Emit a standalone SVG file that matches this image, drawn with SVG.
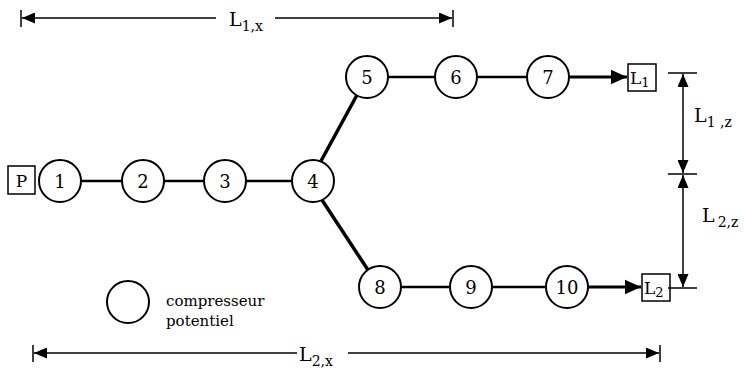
<svg xmlns="http://www.w3.org/2000/svg" width="745" height="373" viewBox="0 0 745 373">
<style>
.n circle{fill:#fff;stroke:#000;stroke-width:2}
.n text,.t{font-family:"DejaVu Serif","Liberation Serif",serif;font-size:18px;fill:#000}
.n text{text-anchor:middle}
.lg{font-family:"DejaVu Serif","Liberation Serif",serif;font-size:15px;fill:#000}
.bx{font-family:"DejaVu Serif","Liberation Serif",serif;font-size:17px;fill:#000}
.b{fill:#fff;stroke:#000;stroke-width:1.5}
.c line{stroke:#000;stroke-width:2.5}
.d line{stroke:#000;stroke-width:1.5}
.lbl{font-family:"DejaVu Serif","Liberation Serif",serif;font-size:19px;fill:#000}
.sub{font-size:14px}
</style>
<defs>
<marker id="ah" viewBox="0 0 10 10" refX="10" refY="5" markerWidth="13" markerHeight="11" markerUnits="userSpaceOnUse" orient="auto-start-reverse" preserveAspectRatio="none"><path d="M0,0L10,5L0,10z" fill="#000"/></marker>
<marker id="ahb" viewBox="0 0 10 10" refX="10" refY="5" markerWidth="16" markerHeight="16" markerUnits="userSpaceOnUse" orient="auto"><path d="M0,0.5L10,5L0,9.5z" fill="#000"/></marker>
</defs>
<g id="connectors" class="c">
<line x1="81" y1="181" x2="122" y2="181"/>
<line x1="164" y1="181" x2="204" y2="181"/>
<line x1="246" y1="181" x2="292" y2="181"/>
<line x1="321" y1="161" x2="357" y2="95" style="stroke-width:3.5"/>
<line x1="322" y1="200" x2="368" y2="270" style="stroke-width:3.5"/>
<line x1="388" y1="77" x2="435" y2="77"/>
<line x1="477" y1="77" x2="527" y2="77"/>
<line x1="569" y1="77" x2="627" y2="77" style="stroke-width:3" marker-end="url(#ahb)"/>
<line x1="401" y1="287" x2="450" y2="287"/>
<line x1="492" y1="287" x2="546" y2="287"/>
<line x1="588" y1="287" x2="641" y2="287" style="stroke-width:3" marker-end="url(#ahb)"/>
</g>
<g id="P"><rect class="b" x="8" y="166" width="27" height="28"/><text class="bx" x="21.5" y="187" text-anchor="middle">P</text></g>
<g id="n1" class="n"><circle cx="60" cy="181" r="21"/><text x="60" y="187.5">1</text></g>
<g id="n2" class="n"><circle cx="143" cy="181" r="21"/><text x="143" y="187.5">2</text></g>
<g id="n3" class="n"><circle cx="225" cy="181" r="21"/><text x="225" y="187.5">3</text></g>
<g id="n4" class="n"><circle cx="313" cy="181" r="21"/><text x="313" y="187.5">4</text></g>
<g id="n5" class="n"><circle cx="367" cy="77" r="21"/><text x="367" y="83.5">5</text></g>
<g id="n6" class="n"><circle cx="456" cy="77" r="21"/><text x="456" y="83.5">6</text></g>
<g id="n7" class="n"><circle cx="548" cy="77" r="21"/><text x="548" y="83.5">7</text></g>
<g id="n8" class="n"><circle cx="380" cy="287" r="21"/><text x="380" y="293.5">8</text></g>
<g id="n9" class="n"><circle cx="471" cy="287" r="21"/><text x="471" y="293.5">9</text></g>
<g id="n10" class="n"><circle cx="567" cy="287" r="21"/><text x="567" y="293.5">10</text></g>
<g id="L1"><rect class="b" x="628" y="64" width="28" height="27"/><text class="bx" x="630" y="84">L<tspan style="font-size:13px" dy="3">1</tspan></text></g>
<g id="L2"><rect class="b" x="642" y="274" width="28" height="27"/><text class="bx" x="644" y="294">L<tspan style="font-size:13px" dy="3">2</tspan></text></g>
<g id="legend"><circle cx="128" cy="302" r="21" fill="#fff" stroke="#000" stroke-width="2"/><text class="lg" x="166" y="306">compresseur</text><text class="lg" x="166" y="326">potentiel</text></g>
<g id="dimensions" class="d">
<line x1="21" y1="10" x2="21" y2="27"/>
<line x1="453" y1="10" x2="453" y2="27"/>
<line x1="22" y1="18" x2="216" y2="18" marker-start="url(#ah)"/>
<line x1="275" y1="18" x2="452" y2="18" marker-end="url(#ah)"/>
<line x1="33" y1="345" x2="33" y2="362"/>
<line x1="660" y1="345" x2="660" y2="362"/>
<line x1="34" y1="353" x2="297" y2="353" marker-start="url(#ah)"/>
<line x1="348" y1="353" x2="659" y2="353" marker-end="url(#ah)"/>
<line x1="668" y1="73" x2="697" y2="73"/>
<line x1="668" y1="174" x2="697" y2="174"/>
<line x1="668" y1="288" x2="697" y2="288"/>
<line x1="683" y1="74" x2="683" y2="173" marker-start="url(#ah)" marker-end="url(#ah)"/>
<line x1="683" y1="175" x2="683" y2="287" marker-start="url(#ah)" marker-end="url(#ah)"/>
</g>
<g id="labels">
<text class="lbl" x="229" y="26">L<tspan class="sub" dy="5">1,x</tspan></text>
<text class="lbl" x="299" y="361">L<tspan class="sub" dy="5">2,x</tspan></text>
<text class="lbl" x="694" y="122">L<tspan class="sub" dy="5">1 ,z</tspan></text>
<text class="lbl" x="702" y="222">L<tspan class="sub" dy="5" dx="3">2,z</tspan></text>
</g>
</svg>
